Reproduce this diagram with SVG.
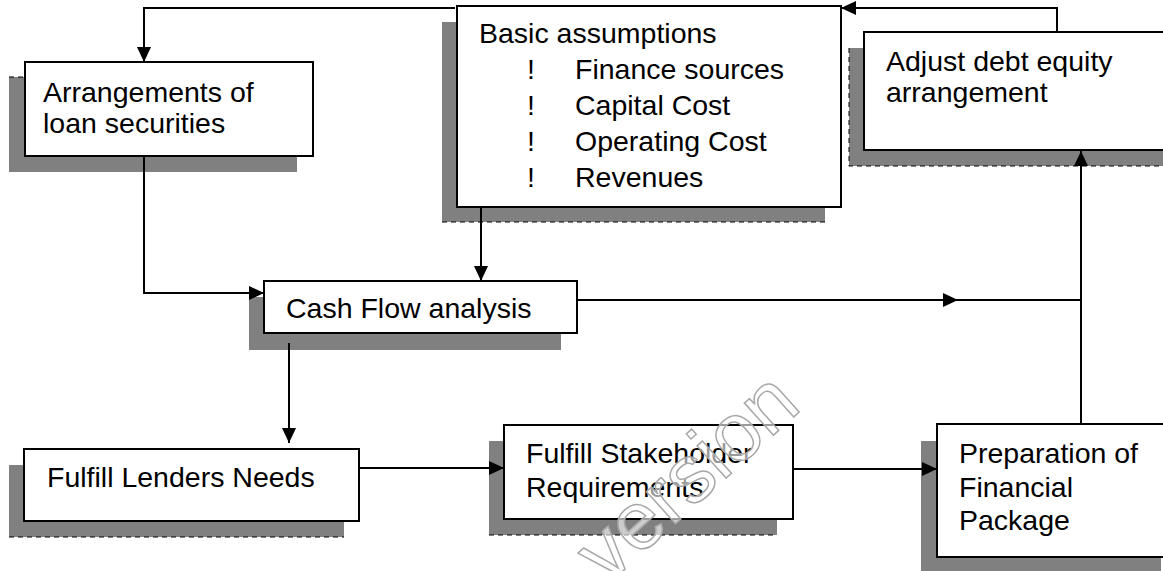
<svg xmlns="http://www.w3.org/2000/svg" width="1163" height="571" viewBox="0 0 1163 571">
<style>
.sh{fill:#808080;stroke:none}
.bx{fill:#fff;stroke:#000;stroke-width:2}
.dash{fill:none;stroke:#000;stroke-width:1;stroke-dasharray:5,4}
.t{font-family:"Liberation Sans",Arial,sans-serif;font-size:28.5px;fill:#000}
.ln{fill:none;stroke:#000;stroke-width:2}
.wm{font-family:"Liberation Sans",Arial,sans-serif;font-size:82px;fill:#fff;fill-opacity:0.6;stroke:#a8a8a8;stroke-width:1.5}
</style>
<defs>
<marker id="ah" markerUnits="userSpaceOnUse" markerWidth="16" markerHeight="16" refX="15" refY="7" orient="auto">
<path d="M0,0 L15,7 L0,14 z" fill="#000"/>
</marker>
</defs>
<rect width="1163" height="571" fill="#fff"/>
<g id="node-arrangements">
<rect class="sh" x="9" y="77" width="288" height="95"/>
<line class="dash" x1="9" y1="77" x2="25" y2="77"/>
<rect class="bx" x="25" y="62" width="288" height="94"/>
<text class="t" x="43" y="102">Arrangements of</text>
<text class="t" x="43" y="133">loan securities</text>
</g>
<g id="node-basic">
<rect class="sh" x="442" y="22" width="383" height="200"/>
<line class="dash" x1="442" y1="222" x2="825" y2="222"/>
<rect class="bx" x="457" y="6" width="384" height="201"/>
<text class="t" x="479" y="43">Basic assumptions</text>
<text class="t" x="527" y="79">!</text><text class="t" x="575" y="79">Finance sources</text>
<text class="t" x="527" y="115">!</text><text class="t" x="575" y="115">Capital Cost</text>
<text class="t" x="527" y="151">!</text><text class="t" x="575" y="151">Operating Cost</text>
<text class="t" x="527" y="187">!</text><text class="t" x="575" y="187">Revenues</text>
</g>
<g id="node-adjust">
<rect class="sh" x="849" y="48" width="330" height="118"/>
<polyline class="dash" points="849,48 849,166 1163,166"/>
<rect class="bx" x="864" y="32" width="320" height="118"/>
<text class="t" x="886" y="71">Adjust debt equity</text>
<text class="t" x="886" y="102">arrangement</text>
</g>
<g id="node-cashflow">
<rect class="sh" x="249" y="297" width="312" height="53"/>
<rect class="bx" x="264" y="281" width="313" height="52"/>
<text class="t" x="286" y="318">Cash Flow analysis</text>
</g>
<g id="node-lenders">
<rect class="sh" x="9" y="465" width="335" height="72"/>
<line class="dash" x1="9" y1="537" x2="344" y2="537"/>
<rect class="bx" x="24" y="449" width="335" height="72"/>
<text class="t" x="47" y="487">Fulfill Lenders Needs</text>
</g>
<g id="node-stakeholder">
<rect class="sh" x="489" y="441" width="288" height="94"/>
<line class="dash" x1="489" y1="535" x2="777" y2="535"/>
<rect class="bx" x="504" y="425" width="289" height="94"/>
<text class="t" x="526" y="463">Fulfill Stakeholder</text>
<text class="t" x="526" y="497">Requirements</text>
</g>
<g id="node-preparation">
<rect class="sh" x="921" y="441" width="240" height="140"/>
<rect class="bx" x="937" y="424" width="250" height="133"/>
<text class="t" x="959" y="463">Preparation of</text>
<text class="t" x="959" y="497">Financial</text>
<text class="t" x="959" y="530">Package</text>
</g>
<g id="connectors">
<polyline class="ln" points="455,8 144,8 144,62" marker-end="url(#ah)"/>
<polyline class="ln" points="1057,31 1057,8 841,8" marker-end="url(#ah)"/>
<polyline class="ln" points="144,157 144,293 264,293" marker-end="url(#ah)"/>
<line class="ln" x1="481" y1="208" x2="481" y2="281" marker-end="url(#ah)"/>
<line class="ln" x1="578" y1="300" x2="958" y2="300" marker-end="url(#ah)"/>
<line class="ln" x1="958" y1="300" x2="1081" y2="300"/>
<line class="ln" x1="1081" y1="423" x2="1081" y2="151" marker-end="url(#ah)"/>
<line class="ln" x1="289" y1="343" x2="289" y2="443" marker-end="url(#ah)"/>
<line class="ln" x1="360" y1="468" x2="504" y2="468" marker-end="url(#ah)"/>
<line class="ln" x1="794" y1="469" x2="937" y2="469" marker-end="url(#ah)"/>
</g>
<text class="wm" x="0" y="0" text-anchor="middle" transform="translate(705,497) rotate(-42)">version</text>
</svg>
